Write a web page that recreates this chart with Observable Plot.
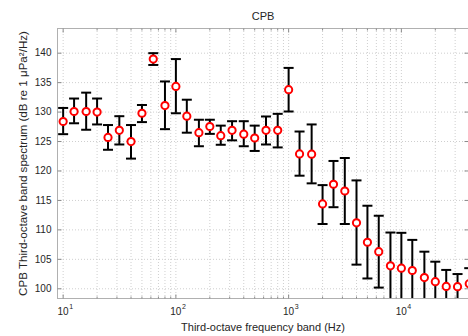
<!DOCTYPE html>
<html><head><meta charset="utf-8">
<script src="https://cdn.jsdelivr.net/npm/d3@7"></script>
<script src="https://cdn.jsdelivr.net/npm/@observablehq/plot@0.6"></script>
<style>html,body{margin:0;padding:0;background:#fff}</style>
</head><body><div id="chart"></div>
<script>
const titleText = "CPB";
const xLabel = "Third-octave frequency band (Hz)";
const yLabel = "CPB Third-octave band spectrum (dB re 1 \u03BCPa\u00B2/Hz)";
const freqs = [10,12.5,16,20,25,31.5,40,50,63,80,100,125,160,200,250,315,400,500,630,800,1000,1250,1600,2000,2500,3150,4000,5000,6300,8000,10000,12500,16000,20000,25000,31500,40000];
const means = [128.4,130.1,130.1,130.0,125.7,126.9,125.0,129.8,139.0,131.1,134.35,129.3,126.5,127.55,126.0,126.9,126.25,125.6,126.9,126.9,133.8,122.9,122.85,114.4,117.75,116.6,111.2,107.9,106.3,103.9,103.5,103.1,101.9,101.2,100.4,100.35,100.85];
const uppers = [130.7,132.3,133.3,132.3,127.8,129.3,127.8,131.2,140.0,135.2,139.0,132.1,128.7,128.7,127.7,128.45,128.45,127.7,129.25,129.7,137.5,126.7,127.9,117.6,121.7,122.2,118.4,114.1,112.4,109.55,109.5,108.3,106.3,104.6,103.2,102.5,103.5];
const lowers = [126.25,128.1,127.0,127.9,123.6,124.5,122.1,128.3,138.0,127.1,129.8,126.5,124.2,126.3,124.45,125.2,124.2,123.4,124.5,124.0,130.1,119.2,117.9,111.0,113.85,111.0,104.1,101.75,100.2,97.9,97.5,97.9,97.5,97.8,97.6,97.9,97.9];
const yTicks = [100,105,110,115,120,125,130,135,140];
const xDecades = [10,100,1000,10000];
const xExponents = ["1","2","3","4"];
const xMinor = [20,30,40,50,60,70,80,90,200,300,400,500,600,700,800,900,2000,3000,4000,5000,6000,7000,8000,9000,20000,30000];

const data = freqs.map((f,i) => ({f, m: means[i], hi: uppers[i], lo: lowers[i]}));
const decades = xDecades.map((d,i) => ({d, e: xExponents[i]}));

const sym = (fn) => ({draw(ctx, size){ const r = Math.sqrt(size/Math.PI); fn(ctx, r); }});
const cap = sym((c,r)=>{c.moveTo(-r,0); c.lineTo(r,0);});
const tickRightward = sym((c,r)=>{c.moveTo(0,0); c.lineTo(r,0);});
const tickLeftward = sym((c,r)=>{c.moveTo(0,0); c.lineTo(-r,0);});
const tickUpward = sym((c,r)=>{c.moveTo(0,0); c.lineTo(0,-r);});
const tickDownward = sym((c,r)=>{c.moveTo(0,0); c.lineTo(0,r);});

const gridStyle = {stroke:"#cfcfcf", strokeOpacity:1, strokeWidth:1, strokeDasharray:"1,2"};
const tickStyle = {stroke:"#8a8a8a", fill:"none", strokeWidth:1};
const txt = "#262626";

const chart = Plot.plot({
  width: 468, height: 336,
  marginLeft: 57, marginRight: 0, marginTop: 28, marginBottom: 38,
  style: {fontFamily: "'Liberation Sans', Arial, Helvetica, sans-serif", fontSize: "10px", color: txt, background: "#fff"},
  x: {type: "log", domain: [8.91, 39400], axis: null},
  y: {domain: [98.35, 144.19], axis: null},
  marks: [
    Plot.gridY(yTicks, gridStyle),
    Plot.gridX([...xDecades, ...xMinor], gridStyle),
    Plot.frame({stroke: "#b0b0b0"}),
    Plot.dot(yTicks, {y: d=>d, frameAnchor: "left", symbol: tickRightward, r: 4, ...tickStyle}),
    Plot.dot(yTicks, {y: d=>d, frameAnchor: "right", symbol: tickLeftward, r: 4, ...tickStyle}),
    Plot.dot(xDecades, {x: d=>d, frameAnchor: "bottom", symbol: tickUpward, r: 4, ...tickStyle}),
    Plot.dot(xDecades, {x: d=>d, frameAnchor: "top", symbol: tickDownward, r: 4, ...tickStyle}),
    Plot.dot(xMinor, {x: d=>d, frameAnchor: "bottom", symbol: tickUpward, r: 2, ...tickStyle}),
    Plot.dot(xMinor, {x: d=>d, frameAnchor: "top", symbol: tickDownward, r: 2, ...tickStyle}),
    Plot.ruleX(data, {x: "f", y1: "lo", y2: "hi", stroke: "black", strokeWidth: 2, clip: true}),
    Plot.dot(data, {x: "f", y: "hi", symbol: cap, r: 5, stroke: "black", fill: "none", strokeWidth: 2, clip: true}),
    Plot.dot(data, {x: "f", y: "lo", symbol: cap, r: 5, stroke: "black", fill: "none", strokeWidth: 2, clip: true}),
    Plot.dot(data, {x: "f", y: "m", r: 3.6, stroke: "#ff0000", fill: "white", strokeWidth: 2}),
    Plot.text(yTicks, {y: d=>d, text: d=>String(d), frameAnchor: "left", textAnchor: "end", dx: -6, fill: txt, fontSize: 10}),
    Plot.text(decades, {x: "d", text: () => "10", frameAnchor: "bottom", lineAnchor: "top", textAnchor: "end", dx: 5.5, dy: 9, fill: txt, fontSize: 10}),
    Plot.text(decades, {x: "d", text: "e", frameAnchor: "bottom", lineAnchor: "top", textAnchor: "start", dx: 6, dy: 6, fill: txt, fontSize: 7}),
    Plot.text([xLabel], {frameAnchor: "bottom", lineAnchor: "middle", textAnchor: "middle", dy: 28.5, fill: txt, fontSize: 11}),
    Plot.text([yLabel], {frameAnchor: "left", rotate: -90, lineAnchor: "middle", textAnchor: "middle", dx: -34.5, fill: txt, fontSize: 11.6}),
    Plot.text([titleText], {frameAnchor: "top", lineAnchor: "bottom", textAnchor: "middle", dy: -9, fill: txt, fontSize: 11})
  ]
});
document.getElementById("chart").appendChild(chart);
</script>
</body></html>
